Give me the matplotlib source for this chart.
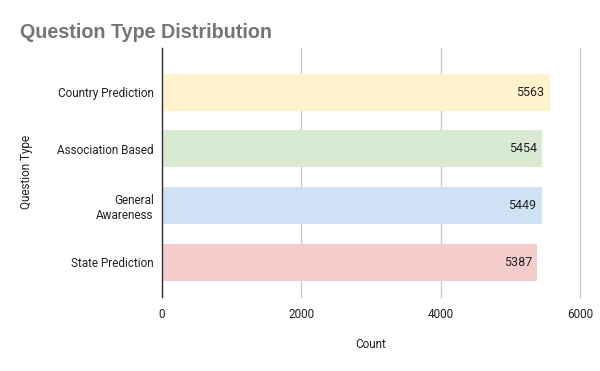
import matplotlib
matplotlib.use("Agg")
from matplotlib import pyplot as plt

categories = ["State Prediction", "General\nAwareness", "Association Based", "Country Prediction"]
counts = [5387, 5449, 5454, 5563]
colors = ["#f4cccc", "#cfe2f3", "#d9ead3", "#fff2cc"]
xticks = [0, 2000, 4000, 6000]

fig = plt.figure(figsize=(6, 3.71), dpi=100)
ax = fig.add_axes([0.27, 0.2, 0.697, 0.671])

ypos = list(range(len(categories)))
ax.barh(ypos, counts, height=0.65, color=colors, zorder=2)

# value labels inside the bar end
for y, v in zip(ypos, counts):
    ax.text(v - 75, y, str(v), ha="right", va="center", fontsize=9,
            family="Roboto", color="#222222", zorder=3)

ax.set_xlim(0, 6000)
ax.set_ylim(-0.61, 3.78)
ax.set_xticks(xticks)
ax.set_xticklabels([str(t) for t in xticks], family="Roboto", fontsize=8.5, color="#222222")
ax.set_yticks(ypos)
ax.set_yticklabels(categories, family="Roboto", fontsize=8.5, color="#222222")
ax.tick_params(length=0, pad=8)
ax.tick_params(axis="y", pad=6)

ax.grid(axis="x", color="#cccccc", linewidth=1, zorder=0)
for gl in ax.get_xgridlines():
    gl.set_clip_on(False)
for s in ["top", "right", "bottom"]:
    ax.spines[s].set_visible(False)
ax.spines["left"].set_color("#333333")
ax.spines["left"].set_linewidth(1)
ax.spines["left"].set_zorder(4)

ax.set_xlabel("Count", family="Roboto", fontsize=8.5, color="#222222", labelpad=12)
ax.set_ylabel("Question Type", family="Roboto", fontsize=8.5, color="#222222", labelpad=17)

fig.text(20 / 600, 1 - 32 / 371, "Question Type Distribution", family="Liberation Sans",
         fontweight="bold", fontsize=14.2, color="#757575", va="center", ha="left")

fig.savefig("out.png", dpi=100, facecolor="white")
